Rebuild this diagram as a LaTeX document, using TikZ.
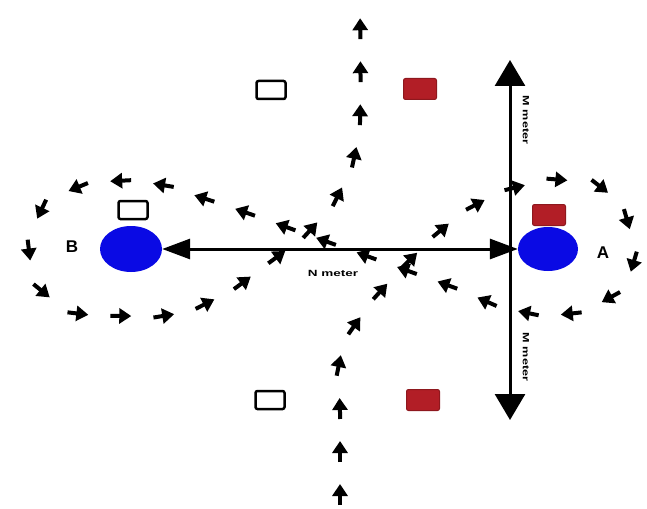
\documentclass[tikz,border=0pt]{standalone}
\usepackage{fontspec}
\setmainfont{Liberation Sans}
\usetikzlibrary{arrows.meta,decorations.markings,shapes.geometric}
\definecolor{nodeblue}{RGB}{10,10,228}
\definecolor{boxred}{RGB}{178,30,38}
\tikzset{
  bluenode/.style={ellipse, fill=nodeblue, draw=none, minimum width=62pt, minimum height=46pt, inner sep=0pt},
  whitebox/.style={rectangle, draw=black, line width=2.5pt, fill=white, rounded corners=2pt, minimum width=29pt, minimum height=18pt, inner sep=0pt},
  redbox/.style={rectangle, draw=boxred!80!black, line width=1pt, fill=boxred, rounded corners=2pt, minimum width=33pt, minimum height=21pt, inner sep=0pt},
  flowarrow/.style={line width=4pt, -{Triangle[length=12pt,width=15pt]}},
  dimarrow/.style={line width=3pt, {Triangle[length=28pt,width=20pt]}-{Triangle[length=28pt,width=20pt]}},
  vdimarrow/.style={line width=3pt, {Triangle[length=26pt,width=30pt]}-{Triangle[length=26pt,width=30pt]}},
  letter/.style={font=\fontsize{17}{17}\selectfont\bfseries},
  dimlabel/.style={font=\fontsize{9}{9}\selectfont\bfseries, inner sep=1pt},
  traffic/.style={decorate, decoration={markings,
      mark=between positions 22pt and 1 step 43pt with {\draw[flowarrow] (-21pt,0) -- (0,0);}}}
}
\begin{document}
\begin{tikzpicture}[x=1pt,y=-1pt]
\useasboundingbox (0,0) rectangle (647,508);
% squares
\node[whitebox] (sqB) at (133,210) {};
\node[redbox] (sqA) at (549,215) {};
\node[whitebox] (sqTL) at (271,90) {};
\node[redbox] (sqTR) at (420,89) {};
\node[whitebox] (sqBL) at (270,400) {};
\node[redbox] (sqBR) at (423,400) {};
% main nodes
\node[bluenode] (B) at (131,249) {};
\node[bluenode, minimum width=60pt, minimum height=44pt] (A) at (548,249) {};
\node[letter] (lB) at (72,247) {B};
\node[letter] (lA) at (603,253) {A};
% traffic path
\path[traffic] plot[smooth, tension=0.55] coordinates {
  (340,506) (340,420) (340,360) (352,330) (380,292) (420,250) (460,215) (505,191)
  (560,180) (607,192) (630,230) (630,274) (602,302) (557,315) (505,308)
  (455,288) (400,268) (350,250) (300,232) (250,214) (200,197) (150,183)
  (95,183) (48,203) (30,243) (38,285) (75,312) (127,316) (180,313)
  (228,292) (270,262) (305,235) (335,200) (353,160) (360,115) (360,8)};
% dimension arrows
\coordinate (vtop) at (510,60);
\coordinate (vbot) at (510,420);
\draw[vdimarrow] (vtop) -- (vbot);
\draw[dimarrow] (B.east) -- (A.west);
\node[dimlabel] (hlab) at (333,273) {\scalebox{1.5}[1]{N meter}};
\node[dimlabel, rotate=-90] (vlab1) at (526,120) {\scalebox{1.4}[1]{M meter}};
\node[dimlabel, rotate=-90] (vlab2) at (526,357) {\scalebox{1.4}[1]{M meter}};
\end{tikzpicture}
\end{document}
